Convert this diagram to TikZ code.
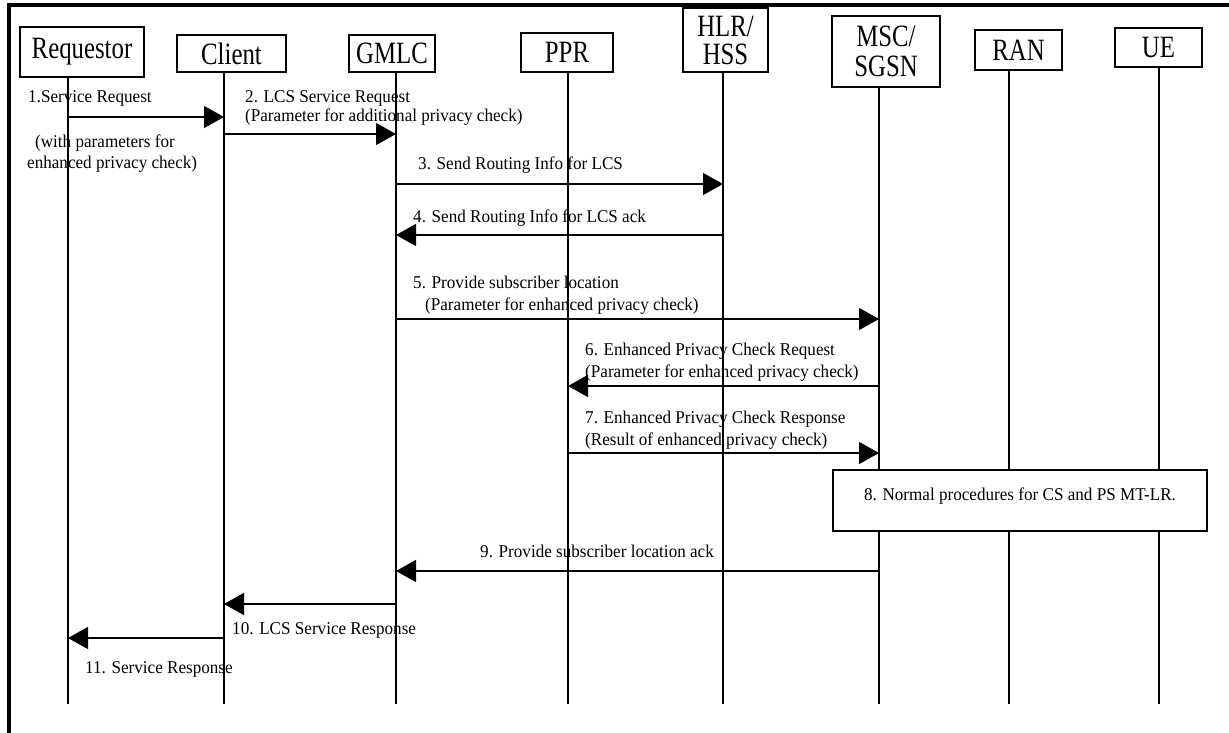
\documentclass[tikz,border=0pt]{standalone}
\usepackage{fontspec}
\setmainfont{Liberation Serif}
\newfontfamily\boxfont[FakeStretch=0.8]{Liberation Serif}
\newfontfamily\msgfont[FakeStretch=0.95]{Liberation Serif}
\usetikzlibrary{arrows.meta}
\tikzset{
  actor/.style={draw, line width=1.3pt, fill=white, inner sep=0pt, align=center,
    font=\boxfont\fontsize{31}{28}\selectfont},
  life/.style={line width=1.3pt},
  msg/.style={line width=1.3pt, -{Triangle[length=20pt,width=22pt]}},
  lbl/.style={font=\msgfont\fontsize{18}{20}\selectfont, anchor=base west, inner sep=0pt},
  procbox/.style={draw, line width=1.3pt, fill=white, inner sep=0pt},
  frame/.style={line width=3.2pt}
}
\begin{document}
\begin{tikzpicture}[x=1pt,y=-1pt]
\useasboundingbox (0,0) rectangle (1229,733);
% frame
\coordinate (fTL) at (9,5);
\coordinate (fTR) at (1229,5);
\coordinate (fBL) at (9,733);
\draw[frame] (fBL) -- (fTL) -- (fTR);

% participants
\node[actor, minimum width=124pt, minimum height=50pt] (bReq) at (82,52) {Requestor};
\node[actor, minimum width=109pt, minimum height=37pt] (bCli) at (231.5,53.5) {Client};
\node[actor, minimum width=86pt, minimum height=37pt] (bGm) at (392,53.5) {GMLC};
\node[actor, minimum width=92pt, minimum height=39pt] (bPpr) at (567,52.5) {PPR};
\node[actor, minimum width=85pt, minimum height=64pt] (bHlr) at (725.5,40) {HLR/\\HSS};
\node[actor, minimum width=108pt, minimum height=71pt, font=\boxfont\fontsize{31}{30}\selectfont] (bMsc) at (886,51.5) {MSC/\\SGSN};
\node[actor, minimum width=87pt, minimum height=40pt] (bRan) at (1018.5,50) {RAN};
\node[actor, minimum width=87pt, minimum height=39pt] (bUe) at (1158.5,47.5) {UE};

% lifeline bottoms
\coordinate (lReq) at (68,704);
\coordinate (lCli) at (224,704);
\coordinate (lGm) at (396,704);
\coordinate (lPpr) at (568,704);
\coordinate (lHlr) at (723,704);
\coordinate (lMsc) at (879,704);
\coordinate (lRan) at (1009,704);
\coordinate (lUe) at (1159,704);
\foreach \b/\l in {bReq/lReq,bCli/lCli,bGm/lGm,bPpr/lPpr,bHlr/lHlr,bMsc/lMsc,bRan/lRan,bUe/lUe}
  \draw[life] (\l |- \b.south) -- (\l);

% box 8
\node[procbox, minimum width=374pt, minimum height=61pt] (b8) at (1020,500.5) {};
\node[lbl, anchor=base] (t8) at (1020,500) {8. Normal procedures for CS and PS MT-LR.};

% message rows
\coordinate (m1) at (0,117);
\coordinate (m2) at (0,134);
\coordinate (m3) at (0,184);
\coordinate (m4) at (0,235);
\coordinate (m5) at (0,319);
\coordinate (m6) at (0,386);
\coordinate (m7) at (0,453);
\coordinate (m9) at (0,571);
\coordinate (m10) at (0,604);
\coordinate (m11) at (0,638);

\draw[msg] (lReq |- m1) -- (lCli |- m1);
\draw[msg] (lCli |- m2) -- (lGm |- m2);
\draw[msg] (lGm |- m3) -- (lHlr |- m3);
\draw[msg] (lHlr |- m4) -- (lGm |- m4);
\draw[msg] (lGm |- m5) -- (lMsc |- m5);
\draw[msg] (lMsc |- m6) -- (lPpr |- m6);
\draw[msg] (lPpr |- m7) -- (lMsc |- m7);
\draw[msg] (lMsc |- m9) -- (lGm |- m9);
\draw[msg] (lGm |- m10) -- (lCli |- m10);
\draw[msg] (lCli |- m11) -- (lReq |- m11);

% labels
\node[lbl] (t1a) at (28,103) {1.Service Request};
\node[lbl] (t1b) at (35,148) {(with parameters for};
\node[lbl] (t1c) at (27,168) {enhanced privacy check)};
\node[lbl] (t2a) at (245,103) {2. LCS Service Request};
\node[lbl] (t2b) at (245,122) {(Parameter for additional privacy check)};
\node[lbl] (t3) at (418,169) {3. Send Routing Info for LCS};
\node[lbl] (t4) at (413,222) {4. Send Routing Info for LCS ack};
\node[lbl] (t5a) at (413,288) {5. Provide subscriber location};
\node[lbl] (t5b) at (425,310) {(Parameter for enhanced privacy check)};
\node[lbl] (t6a) at (585,355) {6. Enhanced Privacy Check Request};
\node[lbl] (t6b) at (585,377) {(Parameter for enhanced privacy check)};
\node[lbl] (t7a) at (585,423) {7. Enhanced Privacy Check Response};
\node[lbl] (t7b) at (585,445) {(Result of enhanced privacy check)};
\node[lbl] (t9) at (480,557) {9. Provide subscriber location ack};
\node[lbl] (t10) at (232,634) {10. LCS Service Response};
\node[lbl] (t11) at (85,673) {11. Service Response};
\end{tikzpicture}
\end{document}
